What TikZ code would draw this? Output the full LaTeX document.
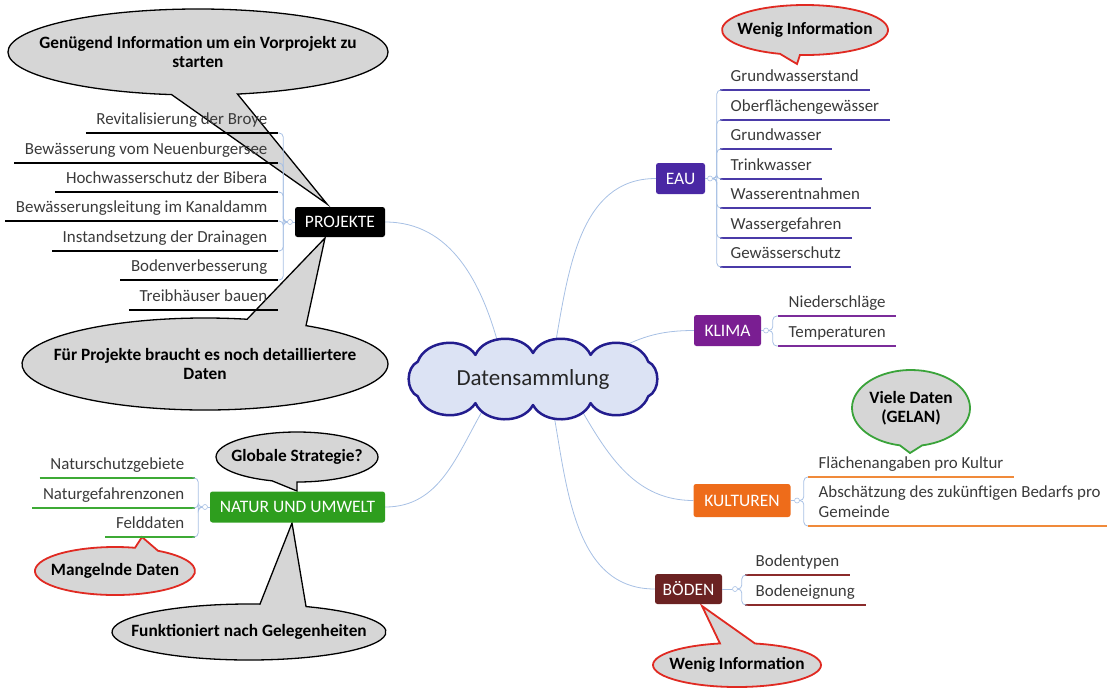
\documentclass[tikz,border=0pt]{standalone}
\usepackage{fontspec}
\setmainfont{Carlito}
\usetikzlibrary{shapes.geometric,calc}

\definecolor{branchline}{HTML}{A7C0E4}
\definecolor{leaftext}{HTML}{3A3A3A}
\definecolor{bubblefill}{HTML}{D6D6D6}
\definecolor{bubblered}{HTML}{E02A22}
\definecolor{bubblegreen}{HTML}{3AA33A}
\definecolor{cloudfill}{HTML}{DCE3F4}
\definecolor{cloudline}{HTML}{231D8E}
\definecolor{eaucol}{HTML}{4A28A4}
\definecolor{eauline}{HTML}{4A3AA8}
\definecolor{klimacol}{HTML}{7A1E92}
\definecolor{klimaline}{HTML}{7B2C9A}
\definecolor{kultcol}{HTML}{EE6C1A}
\definecolor{kultline}{HTML}{F08A3A}
\definecolor{bodencol}{HTML}{6B2222}
\definecolor{bodenline}{HTML}{8B2B2B}
\definecolor{naturcol}{HTML}{2E9E1E}
\definecolor{naturline}{HTML}{3DAA35}

\pgfdeclarelayer{background}
\pgfsetlayers{background,main}

\newcommand{\lfnt}{\fontsize{16.9}{20}\selectfont}
\newcommand{\tfnt}{\fontsize{17.5}{20}\selectfont}
\newcommand{\cfnt}{\fontsize{17.3}{19.5}\selectfont\bfseries}

\tikzset{
  topic/.style={rounded corners=2.5pt, text=white, font=\tfnt, minimum height=30pt, inner sep=0pt},
  leaf/.style={font=\lfnt, text=leaftext, inner xsep=10.5pt, inner ysep=3pt, text height=11pt, text depth=5pt},
  uline/.style={line width=1.8pt},
  branch/.style={draw=branchline, line width=0.8pt},
  knob/.style={circle, draw=branchline, fill=white, line width=0.6pt, inner sep=0pt, minimum size=5pt},
  bubble/.style={fill=bubblefill},
  bubtext/.style={font=\cfnt, text=black, align=center, inner sep=0pt},
  puff/.style={bend right=64},
}

% callout outline: centre, x radius, y radius, angle pair of the pointer base, tip, colour, width
\newcommand{\bubbleshape}[8]{%
  \path[bubble, draw=#7, line width=#8]
    ($(#1)+(#4:#2pt and #3pt)$) -- (#6) -- ($(#1)+(#5:#2pt and #3pt)$)
    arc[start angle=#5, end angle={#4+360}, x radius=#2pt, y radius=#3pt] -- cycle;}

% underlined leaf topics, anchored at the left or right end of the underline
\newcommand{\leafR}[5]{%
  \node[leaf, anchor=south west] (#1) at (#3,#4) {#5};
  \draw[uline, draw=#2] (#1.south west) -- (#1.south east);}
\newcommand{\leafL}[5]{%
  \node[leaf, anchor=south east] (#1) at (#3,#4) {#5};
  \draw[uline, draw=#2] (#1.south west) -- (#1.south east);}

\begin{document}
\begin{tikzpicture}[x=1pt,y=-1pt]
\useasboundingbox (0,0) rectangle (1107,689);

% ---- callouts
\coordinate (cA) at (198,52);
\coordinate (cB) at (205,364);
\coordinate (cC) at (805,30);
\coordinate (cD) at (911,408);
\coordinate (cE) at (737,665);
\coordinate (cF) at (297,457);
\coordinate (cG) at (249,632);
\coordinate (cH) at (115,571);

\bubbleshape{cA}{190}{43}{262}{282}{327,204}{black}{1.3pt}
\bubbleshape{cB}{183}{46}{56.5}{76.7}{325,238}{black}{1.3pt}
\bubbleshape{cC}{83}{25}{252.5}{266.5}{797,64}{bubblered}{1.8pt}
\bubbleshape{cD}{59}{38}{259}{281}{910,453}{bubblegreen}{1.8pt}
\bubbleshape{cE}{84}{22}{77.6}{101.7}{702,606}{bubblered}{1.8pt}
\bubbleshape{cF}{81}{25}{252}{270}{297,491}{black}{1.3pt}
\bubbleshape{cG}{137}{28}{65.4}{85.4}{292,523}{black}{1.3pt}
\bubbleshape{cH}{80}{24}{57.5}{75.5}{142,537}{bubblered}{1.8pt}

\node[bubtext] (vorprojekt) at (cA) {Genügend Information um ein Vorprojekt zu\\starten};
\node[bubtext] (detail) at (cB) {Für Projekte braucht es noch detailliertere\\Daten};
\node[bubtext] (wenigEau) at (cC) {Wenig Information};
\node[bubtext] (gelan) at (cD) {Viele Daten\\(GELAN)};
\node[bubtext] (wenigBoden) at (cE) {Wenig Information};
\node[bubtext] (strategie) at (cF) {Globale Strategie?};
\node[bubtext] (gelegenheit) at (cG) {Funktioniert nach Gelegenheiten};
\node[bubtext] (mangel) at (cH) {Mangelnde Daten};

% ---- central topic: ten puffs strung along an ellipse
\begin{scope}[shift={(533,379)}]
  \draw[draw=cloudline, line width=2.5pt, fill=cloudfill, line join=round]
    (42:155pt and 26pt) to[puff] (68.2:155pt and 26pt) to[puff] (90:155pt and 26pt)
    to[puff] (111.8:155pt and 26pt) to[puff] (138:155pt and 26pt)
    to[puff] (222:155pt and 26pt) to[puff] (248.2:155pt and 26pt)
    to[puff] (270:155pt and 26pt) to[puff] (291.8:155pt and 26pt)
    to[puff] (318:155pt and 26pt) to[puff] (42:155pt and 26pt) -- cycle;
\end{scope}
\node[ellipse, minimum width=220pt, minimum height=66pt, inner sep=0pt,
      font=\fontsize{23}{26}\selectfont, text=black!85] (cloud) at (533,379) {Datensammlung};

% ---- main topics
\node[topic, fill=black, minimum width=90pt] (projekte) at (340,222) {PROJEKTE};
\node[topic, fill=eaucol, minimum width=49pt, minimum height=31pt] (eau) at (680.5,178.5) {EAU};
\node[topic, fill=klimacol, minimum width=67pt, minimum height=31pt] (klima) at (727.5,330.5) {KLIMA};
\node[topic, fill=kultcol, minimum width=97pt, minimum height=33pt] (kulturen) at (742,500.5) {KULTUREN};
\node[topic, fill=bodencol, minimum width=67pt] (boeden) at (688.5,589) {BÖDEN};
\node[topic, fill=naturcol, minimum width=175pt, minimum height=31pt] (natur) at (297.5,507) {NATUR UND UMWELT};

% branches run behind the cloud
\begin{pgfonlayer}{background}
\draw[branch] (projekte.east) to[out=0, in=105] (cloud.137);
\draw[branch] (eau.west) to[out=180, in=80] (cloud.56);
\draw[branch] (klima.west) to[out=180, in=30] (cloud.18);
\draw[branch] (kulturen.west) to[out=180, in=-60] (cloud.-32);
\draw[branch] (boeden.west) to[out=180, in=-80] (cloud.-58);
\draw[branch] (natur.east) to[out=0, in=-120] (cloud.211);
\end{pgfonlayer}

% ---- PROJEKTE
\leafL{p1}{black}{278}{133}{Revitalisierung der Broye}
\leafL{p2}{black}{278}{163}{Bewässerung vom Neuenburgersee}
\leafL{p3}{black}{278}{192}{Hochwasserschutz der Bibera}
\leafL{p4}{black}{278}{221}{Bewässerungsleitung im Kanaldamm}
\leafL{p5}{black}{278}{251}{Instandsetzung der Drainagen}
\leafL{p6}{black}{278}{280}{Bodenverbesserung}
\leafL{p7}{black}{278}{310}{Treibhäuser bauen}
\node[knob] (projK) at (290,222) {};
\draw[branch] (projekte.west) -- (projK);
\foreach \c in {p1,p2,p3,p4,p5,p6}
  \draw[branch, rounded corners=4pt] (projK.west) -- ++(-4,0) |- (\c.south east);

% ---- EAU
\leafR{e1}{eauline}{720}{90}{Grundwasserstand}
\leafR{e2}{eauline}{720}{120}{Oberflächengewässer}
\leafR{e3}{eauline}{720}{149}{Grundwasser}
\leafR{e4}{eauline}{720}{179}{Trinkwasser}
\leafR{e5}{eauline}{720}{208}{Wasserentnahmen}
\leafR{e6}{eauline}{720}{238}{Wassergefahren}
\leafR{e7}{eauline}{720}{267}{Gewässerschutz}
\node[knob] (eauK) at (710,178.5) {};
\draw[branch] (eau.east) -- (eauK);
\foreach \c in {e1,e2,e3,e4,e5,e6,e7}
  \draw[branch, rounded corners=4pt] (eauK.east) -- ++(4,0) |- (\c.south west);

% ---- KLIMA
\leafR{k1}{klimaline}{778}{316}{Niederschläge}
\leafR{k2}{klimaline}{778}{346}{Temperaturen}
\node[knob] (klimaK) at (766,330.5) {};
\draw[branch] (klima.east) -- (klimaK);
\foreach \c in {k1,k2}
  \draw[branch, rounded corners=4pt] (klimaK.east) -- ++(4,0) |- (\c.south west);

% ---- KULTUREN
\leafR{u1}{kultline}{808}{477}{Flächenangaben pro Kultur}
\node[font=\lfnt, text=leaftext, inner xsep=10.5pt, inner ysep=3pt, text depth=5pt,
      align=left, anchor=south west] (u2) at (808,526)
      {Abschätzung des zukünftigen Bedarfs pro\\Gemeinde};
\draw[uline, draw=kultline] (u2.south west) -- (u2.south east);
\node[knob] (kultK) at (797,500.5) {};
\draw[branch] (kulturen.east) -- (kultK);
\foreach \c in {u1,u2}
  \draw[branch, rounded corners=4pt] (kultK.east) -- ++(4,0) |- (\c.south west);

% ---- BÖDEN
\leafR{b1}{bodenline}{745}{575}{Bodentypen}
\leafR{b2}{bodenline}{745}{605}{Bodeneignung}
\node[knob] (bodenK) at (735,589) {};
\draw[branch] (boeden.east) -- (bodenK);
\foreach \c in {b1,b2}
  \draw[branch, rounded corners=4pt] (bodenK.east) -- ++(4,0) |- (\c.south west);

% ---- NATUR UND UMWELT
\leafL{n1}{naturline}{195}{478}{Naturschutzgebiete}
\leafL{n2}{naturline}{195}{508}{Naturgefahrenzonen}
\leafL{n3}{naturline}{195}{537}{Felddaten}
\node[knob] (naturK) at (205,507) {};
\draw[branch] (natur.west) -- (naturK);
\foreach \c in {n1,n2,n3}
  \draw[branch, rounded corners=4pt] (naturK.west) -- ++(-4,0) |- (\c.south east);
\end{tikzpicture}
\end{document}
